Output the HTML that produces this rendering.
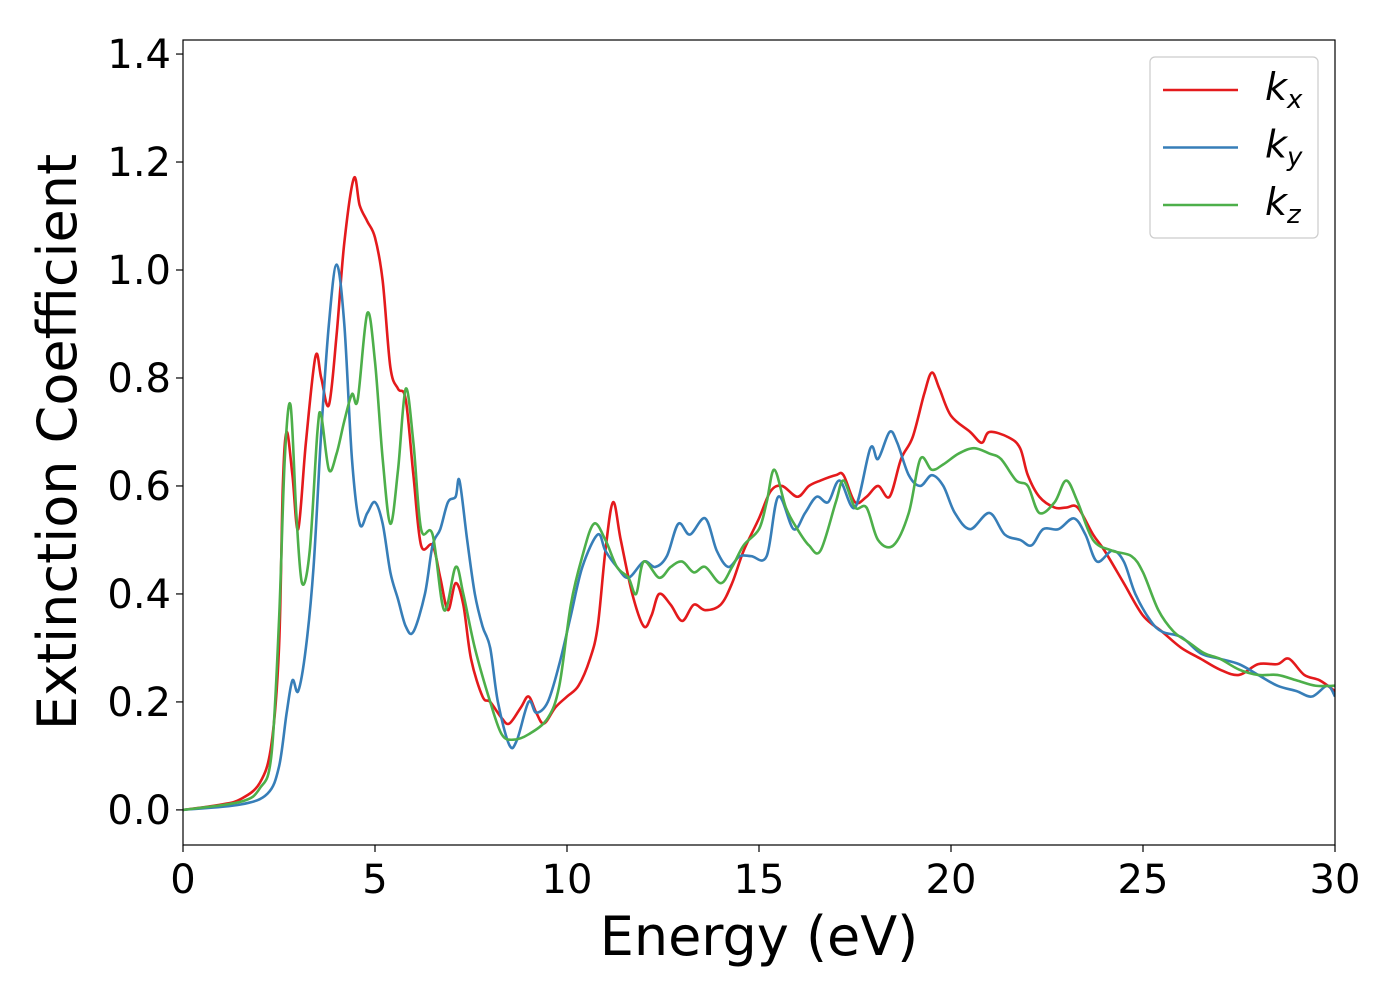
<!DOCTYPE html>
<html><head><meta charset="utf-8"><style>
html,body{margin:0;padding:0;background:#fff;}
svg{display:block;font-family:"DejaVu Sans","Liberation Sans",sans-serif;}
</style></head><body>
<svg id="chart" width="1400" height="1000" viewBox="0 0 1400 1000">
<g id="plot"></g>
<g id="axes"></g>
<g id="legend"></g>
</svg>
<script>
const xTicks=[0,5,10,15,20,25,30];
const yTicks=[0.0,0.2,0.4,0.6,0.8,1.0,1.2,1.4];
const kxE=[0,1,1.5,2,2.3,2.5,2.6,2.7,2.85,3.0,3.2,3.45,3.6,3.8,4.0,4.2,4.45,4.6,4.8,5.0,5.2,5.4,5.6,5.8,6.0,6.2,6.5,6.7,6.9,7.1,7.3,7.5,7.8,8.0,8.3,8.5,8.8,9.0,9.2,9.4,9.7,10,10.3,10.6,10.8,11.0,11.2,11.4,11.7,12.0,12.2,12.4,12.7,13.0,13.3,13.6,14.0,14.3,14.6,15.0,15.3,15.6,16.0,16.3,16.6,17.0,17.2,17.5,17.8,18.1,18.4,18.7,19.0,19.3,19.5,19.7,20.0,20.5,20.8,21.0,21.5,21.8,22.0,22.3,22.7,23.0,23.3,23.7,24.0,24.5,25.0,25.5,26.0,26.5,27,27.5,28,28.5,28.8,29.2,29.6,30];
const kxV=[0,0.01,0.02,0.05,0.12,0.3,0.6,0.70,0.62,0.52,0.68,0.84,0.80,0.75,0.88,1.05,1.17,1.12,1.09,1.06,0.98,0.82,0.78,0.76,0.62,0.49,0.49,0.43,0.37,0.42,0.38,0.28,0.21,0.20,0.17,0.16,0.19,0.21,0.18,0.16,0.19,0.21,0.23,0.28,0.34,0.48,0.57,0.50,0.40,0.34,0.36,0.40,0.38,0.35,0.38,0.37,0.38,0.42,0.48,0.54,0.59,0.60,0.58,0.60,0.61,0.62,0.62,0.57,0.58,0.60,0.58,0.65,0.69,0.77,0.81,0.78,0.73,0.70,0.68,0.70,0.69,0.67,0.62,0.58,0.56,0.56,0.56,0.51,0.48,0.42,0.36,0.33,0.30,0.28,0.26,0.25,0.27,0.27,0.28,0.25,0.24,0.22];
const kyE=[0,1.5,2.2,2.5,2.7,2.85,3.0,3.2,3.4,3.6,3.8,4.0,4.2,4.4,4.6,4.8,5.0,5.2,5.4,5.6,5.8,6.0,6.3,6.5,6.7,6.9,7.1,7.2,7.4,7.6,7.8,8.0,8.2,8.5,8.7,9.0,9.2,9.5,9.8,10.1,10.4,10.8,11.0,11.3,11.6,12.0,12.3,12.6,12.9,13.2,13.6,13.9,14.2,14.5,14.8,15.2,15.5,15.9,16.2,16.5,16.8,17.1,17.5,17.9,18.1,18.4,18.6,18.9,19.2,19.5,19.8,20.1,20.5,21.0,21.4,21.8,22.1,22.4,22.8,23.2,23.5,23.8,24.2,24.5,24.8,25.2,25.5,26,26.5,27,27.5,28,28.5,29,29.4,29.8,30];
const kyV=[0,0.01,0.03,0.08,0.18,0.24,0.22,0.30,0.45,0.70,0.90,1.01,0.90,0.65,0.53,0.55,0.57,0.53,0.44,0.39,0.34,0.33,0.40,0.49,0.52,0.57,0.58,0.61,0.50,0.40,0.34,0.30,0.20,0.12,0.13,0.20,0.18,0.20,0.27,0.36,0.45,0.51,0.48,0.45,0.43,0.46,0.45,0.47,0.53,0.51,0.54,0.48,0.45,0.47,0.47,0.47,0.58,0.52,0.55,0.58,0.57,0.61,0.56,0.67,0.65,0.70,0.68,0.62,0.60,0.62,0.60,0.55,0.52,0.55,0.51,0.50,0.49,0.52,0.52,0.54,0.51,0.46,0.48,0.46,0.40,0.35,0.33,0.32,0.29,0.28,0.27,0.25,0.23,0.22,0.21,0.23,0.21];
const kzE=[0,1.5,2.0,2.3,2.5,2.65,2.8,2.95,3.1,3.3,3.5,3.6,3.8,4.0,4.2,4.4,4.55,4.8,5.0,5.2,5.4,5.6,5.8,6.0,6.2,6.5,6.8,7.1,7.3,7.6,8.0,8.3,8.6,9.0,9.5,9.8,10.1,10.4,10.7,11.0,11.3,11.6,11.8,12.0,12.4,12.7,13.0,13.3,13.6,14.0,14.3,14.6,15.0,15.2,15.4,15.7,16.0,16.3,16.6,17.0,17.2,17.5,17.8,18.1,18.5,18.9,19.2,19.5,19.8,20.2,20.6,21.0,21.3,21.7,22.0,22.3,22.7,23.0,23.3,23.7,24.2,24.7,25.0,25.4,25.8,26.2,26.6,27,27.5,28,28.5,29,29.5,30];
const kzV=[0,0.015,0.04,0.10,0.35,0.65,0.75,0.55,0.42,0.48,0.70,0.73,0.63,0.66,0.72,0.77,0.76,0.92,0.83,0.65,0.53,0.63,0.78,0.68,0.52,0.51,0.37,0.45,0.40,0.30,0.20,0.14,0.13,0.14,0.17,0.23,0.38,0.47,0.53,0.50,0.45,0.43,0.40,0.46,0.43,0.45,0.46,0.44,0.45,0.42,0.45,0.49,0.52,0.57,0.63,0.56,0.52,0.49,0.48,0.57,0.61,0.56,0.56,0.50,0.49,0.55,0.65,0.63,0.64,0.66,0.67,0.66,0.65,0.61,0.60,0.55,0.57,0.61,0.57,0.50,0.48,0.47,0.44,0.37,0.33,0.31,0.29,0.28,0.26,0.25,0.25,0.24,0.23,0.23];

const NS='http://www.w3.org/2000/svg';
const L=183,R=1335,T=40,B=845;
const xMin=0,xMax=30,yMin=-0.065,yMax=1.426;
const xs=v=>L+(v-xMin)/(xMax-xMin)*(R-L);
const ys=v=>B-(v-yMin)/(yMax-yMin)*(B-T);
function mk(tag,attrs,parent){const e=document.createElementNS(NS,tag);for(const k in attrs)e.setAttribute(k,attrs[k]);parent.appendChild(e);return e;}
const plot=document.getElementById('plot'),axes=document.getElementById('axes'),legend=document.getElementById('legend');
mk('clipPath',{id:'clip'},plot).appendChild(Object.assign(document.createElementNS(NS,'rect'),{}));
const cr=plot.querySelector('clipPath rect');cr.setAttribute('x',L);cr.setAttribute('y',T);cr.setAttribute('width',R-L);cr.setAttribute('height',B-T);
function pathD(E,V){const p=E.map((e,i)=>[xs(e),ys(V[i])]);let d='M'+p[0][0].toFixed(2)+','+p[0][1].toFixed(2);
for(let i=0;i<p.length-1;i++){const p0=p[Math.max(0,i-1)],p1=p[i],p2=p[i+1],p3=p[Math.min(p.length-1,i+2)];
const c1=[p1[0]+(p2[0]-p0[0])/6,p1[1]+(p2[1]-p0[1])/6],c2=[p2[0]-(p3[0]-p1[0])/6,p2[1]-(p3[1]-p1[1])/6];
d+='C'+c1.map(v=>v.toFixed(2))+' '+c2.map(v=>v.toFixed(2))+' '+p2[0].toFixed(2)+','+p2[1].toFixed(2);}return d;}
const series=[{E:kxE,V:kxV,c:'#e41a1c',n:'kx-line',s:'x'},{E:kyE,V:kyV,c:'#377eb8',n:'ky-line',s:'y'},{E:kzE,V:kzV,c:'#4daf4a',n:'kz-line',s:'z'}];
series.forEach(s=>{const p=mk('path',{d:pathD(s.E,s.V),fill:'none',stroke:s.c,'stroke-width':2.6,'clip-path':'url(#clip)'},plot);

});
const fr=mk('rect',{x:L,y:T,width:R-L,height:B-T,fill:'none',stroke:'#000','stroke-width':1.2},axes);


xTicks.forEach(t=>{const x=xs(t);mk('line',{x1:x,x2:x,y1:B,y2:B+7,stroke:'#000','stroke-width':1.2},axes);
const tx=mk('text',{x:x,y:B+48,'font-size':40,'text-anchor':'middle'},axes);tx.textContent=t;

});
yTicks.forEach(t=>{const y=ys(t);mk('line',{x1:L-7,x2:L,y1:y,y2:y,stroke:'#000','stroke-width':1.2},axes);
const tx=mk('text',{x:L-12,y:y+14,'font-size':40,'text-anchor':'end'},axes);tx.textContent=t.toFixed(1);

});
const xl=mk('text',{x:759,y:955,'font-size':54,'text-anchor':'middle'},axes);xl.textContent='Energy (eV)';


const yl=mk('text',{x:0,y:0,'font-size':54,'text-anchor':'middle',transform:'translate(76,442) rotate(-90)'},axes);yl.textContent='Extinction Coefficient';


const lb=mk('rect',{x:1150,y:57,width:168,height:181,rx:5,fill:'#fff',stroke:'#ccc','stroke-width':1.2},legend);


series.forEach((s,i)=>{const y=90+i*57.5;const g=mk('g',{},legend);


mk('line',{x1:1163,x2:1238,y1:y,y2:y,stroke:s.c,'stroke-width':2.6},g);
const t=mk('text',{x:1265,y:y+10,'font-size':38,'font-style':'italic'},g);t.textContent='k';
const sb=mk('tspan',{'font-size':26,dy:8},t);sb.textContent=s.s;});
</script>
</body></html>
